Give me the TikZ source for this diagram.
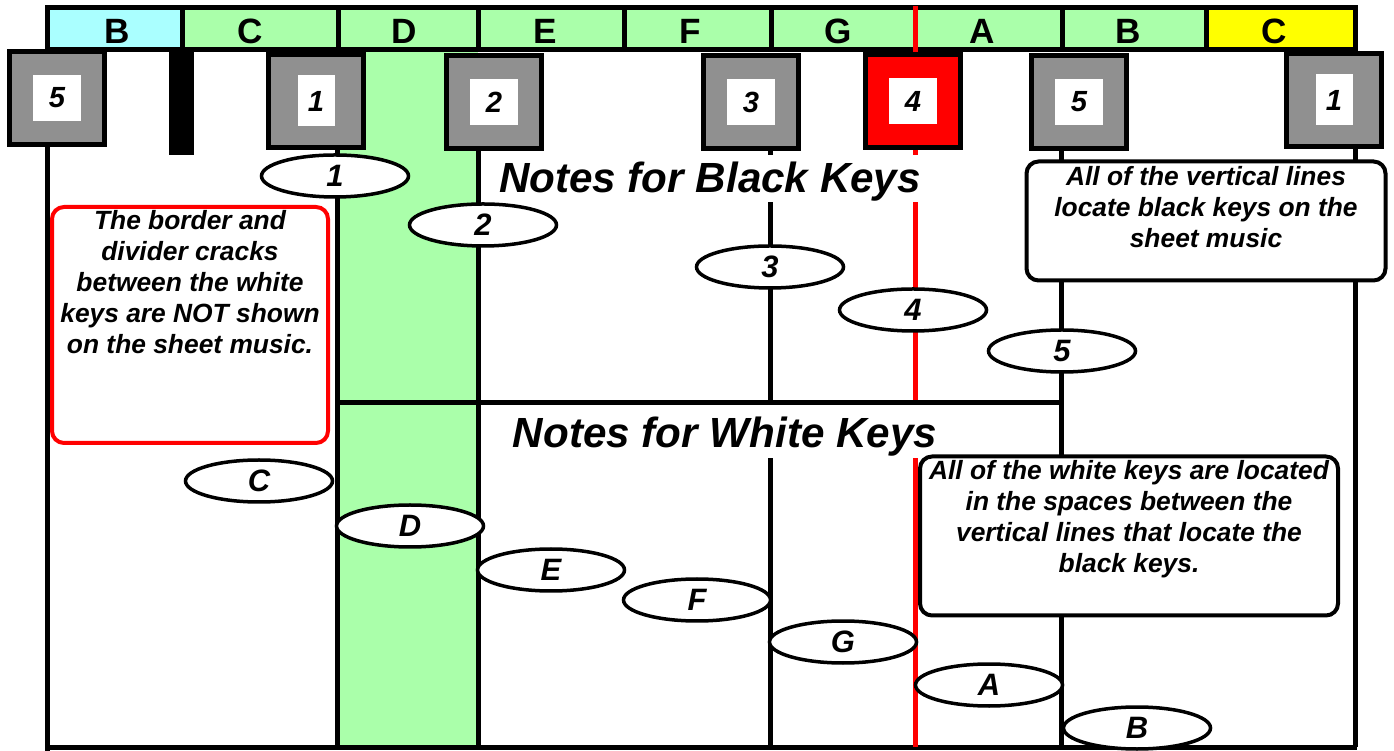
\documentclass[tikz,border=0pt]{standalone}
\usepackage{fontspec}
\setmainfont{Liberation Sans}
\usetikzlibrary{shapes.geometric,positioning}

\definecolor{keygreen}{RGB}{170,255,170}
\definecolor{keycyan}{RGB}{170,255,255}
\definecolor{keyyellow}{RGB}{255,255,0}
\definecolor{keygray}{RGB}{144,144,144}

\tikzset{
  keyline/.style={line width=0.5mm},
  blackkey/.style={draw, line width=0.5mm, fill=keygray, minimum width=9.5mm, minimum height=9.3mm, inner sep=0pt},
  keynum/.style={fill=white, minimum width=4.8mm, minimum height=4.6mm, inner sep=0pt, font=\fontsize{8.3}{10}\selectfont\bfseries\itshape},
  onekey/.style={minimum width=3.7mm, minimum height=5.1mm},
  notebubble/.style={ellipse, draw, line width=0.35mm, fill=white, minimum width=14.7mm, minimum height=4.2mm, inner sep=0pt, font=\fontsize{8.8}{10}\selectfont\bfseries\itshape},
  heading/.style={fill=white, inner xsep=0pt, inner ysep=0pt, text height=3.8mm, text depth=0.9mm, anchor=base, font=\fontsize{12}{14}\selectfont\bfseries\itshape},
  infobox/.style={draw, line width=0.4mm, fill=white, rounded corners=1.2mm},
  infotext/.style={align=center, inner sep=0pt, font=\fontsize{7.5}{8.8}\selectfont\bfseries\itshape},
}

\begin{document}
\begin{tikzpicture}[x=0.1mm, y=-0.1mm]
  \useasboundingbox (0,0) rectangle (1394,751);
  % Green column under D
  \fill[keygreen] (337,50) rectangle (478,747);
  % Letter strip
  \fill[keycyan] (47,8) rectangle (182,50);
  \fill[keygreen] (182,8) rectangle (1206,50);
  \fill[keyyellow] (1206,8) rectangle (1355,50);
  \draw[keyline] (47,8) rectangle (1355,50);
  \foreach \x in {182,338,478,624,771,1062,1206}
    \draw[keyline] (\x,8) -- (\x,50);
  \foreach \x/\name in {117/B,250/C,404/D,545/E,690/F,838/G,982/A,1128/B,1274/C}
    \node[font=\fontsize{10}{12}\selectfont\bfseries] (h\x) at (\x,31) {\name};
  % Staff lines and border
  \draw[keyline] (47,50) -- (47,751);
  \draw[keyline] (45,747) -- (1357,747);
  \foreach \x in {337,478,770,1061,1355}
    \draw[keyline] (\x,140) -- (\x,747);
  \draw[keyline, red] (915,6) -- (915,747);
  % Crack between B and C
  \fill (169,50) rectangle (194,155);
  % Black keys
  \node[blackkey] (k5a) at (57,98) {};
  \node[blackkey] (k1a) at (316,101) {};
  \node[blackkey] (k2) at (494,102) {};
  \node[blackkey] (k3) at (751,102) {};
  \node[blackkey, fill=red] (k4) at (913,101) {};
  \node[blackkey] (k5b) at (1079,102) {};
  \node[blackkey] (k1b) at (1334,100) {};
  % Finger numbers on the keys
  \node[keynum] (n5a) at (k5a) {5};
  \node[keynum, onekey] (n1a) at (k1a) {1};
  \node[keynum] (n2) at (k2) {2};
  \node[keynum] (n3) at (k3) {3};
  \node[keynum] (n4) at (k4) {4};
  \node[keynum] (n5b) at (k5b) {5};
  \node[keynum, onekey] (n1b) at (k1b) {1};
  % Headings
  \node[heading] (blackhead) at (710,193) {Notes for Black Keys};
  \node[heading, text height=4.3mm, text depth=1mm] (whitehead) at (725,448) {Notes for White Keys};
  \draw[keyline] (337,403) -- (1061,403);
  % Notes for black keys
  \node[notebubble] (b1) at (335,176) {1};
  \node[notebubble] (b2) at (483,225) {2};
  \node[notebubble] (b3) at (770,267) {3};
  \node[notebubble] (b4) at (913,310) {4};
  \node[notebubble] (b5) at (1062,351) {5};
  % Notes for white keys
  \node[notebubble] (wC) at (259,481) {C};
  \node[notebubble] (wD) at (410,526) {D};
  \node[notebubble] (wE) at (551,570) {E};
  \node[notebubble] (wF) at (697,600) {F};
  \node[notebubble] (wG) at (843,642) {G};
  \node[notebubble] (wA) at (989,685) {A};
  \node[notebubble] (wB) at (1137,728) {B};
  % Remarks
  \node[infobox, draw=red, minimum width=27.6mm, minimum height=23.6mm] (crackbox) at (190,325) {};
  \node[infotext, below=0.5mm of crackbox.north] (cracktext) {The border and\\divider cracks\\between the white\\keys are NOT shown\\on the sheet music.};
  \node[infobox, minimum width=35.9mm, minimum height=11.9mm] (vertbox) at (1206,221) {};
  \node[infotext, below=0.6mm of vertbox.north] (verttext) {All of the vertical lines\\locate black keys on the\\sheet music};
  \node[infobox, minimum width=41.8mm, minimum height=15.9mm] (spacebox) at (1129,536) {};
  \node[infotext, below=0.5mm of spacebox.north] (spacetext) {All of the white keys are located\\in the spaces between the\\vertical lines that locate the\\black keys.};
\end{tikzpicture}
\end{document}
